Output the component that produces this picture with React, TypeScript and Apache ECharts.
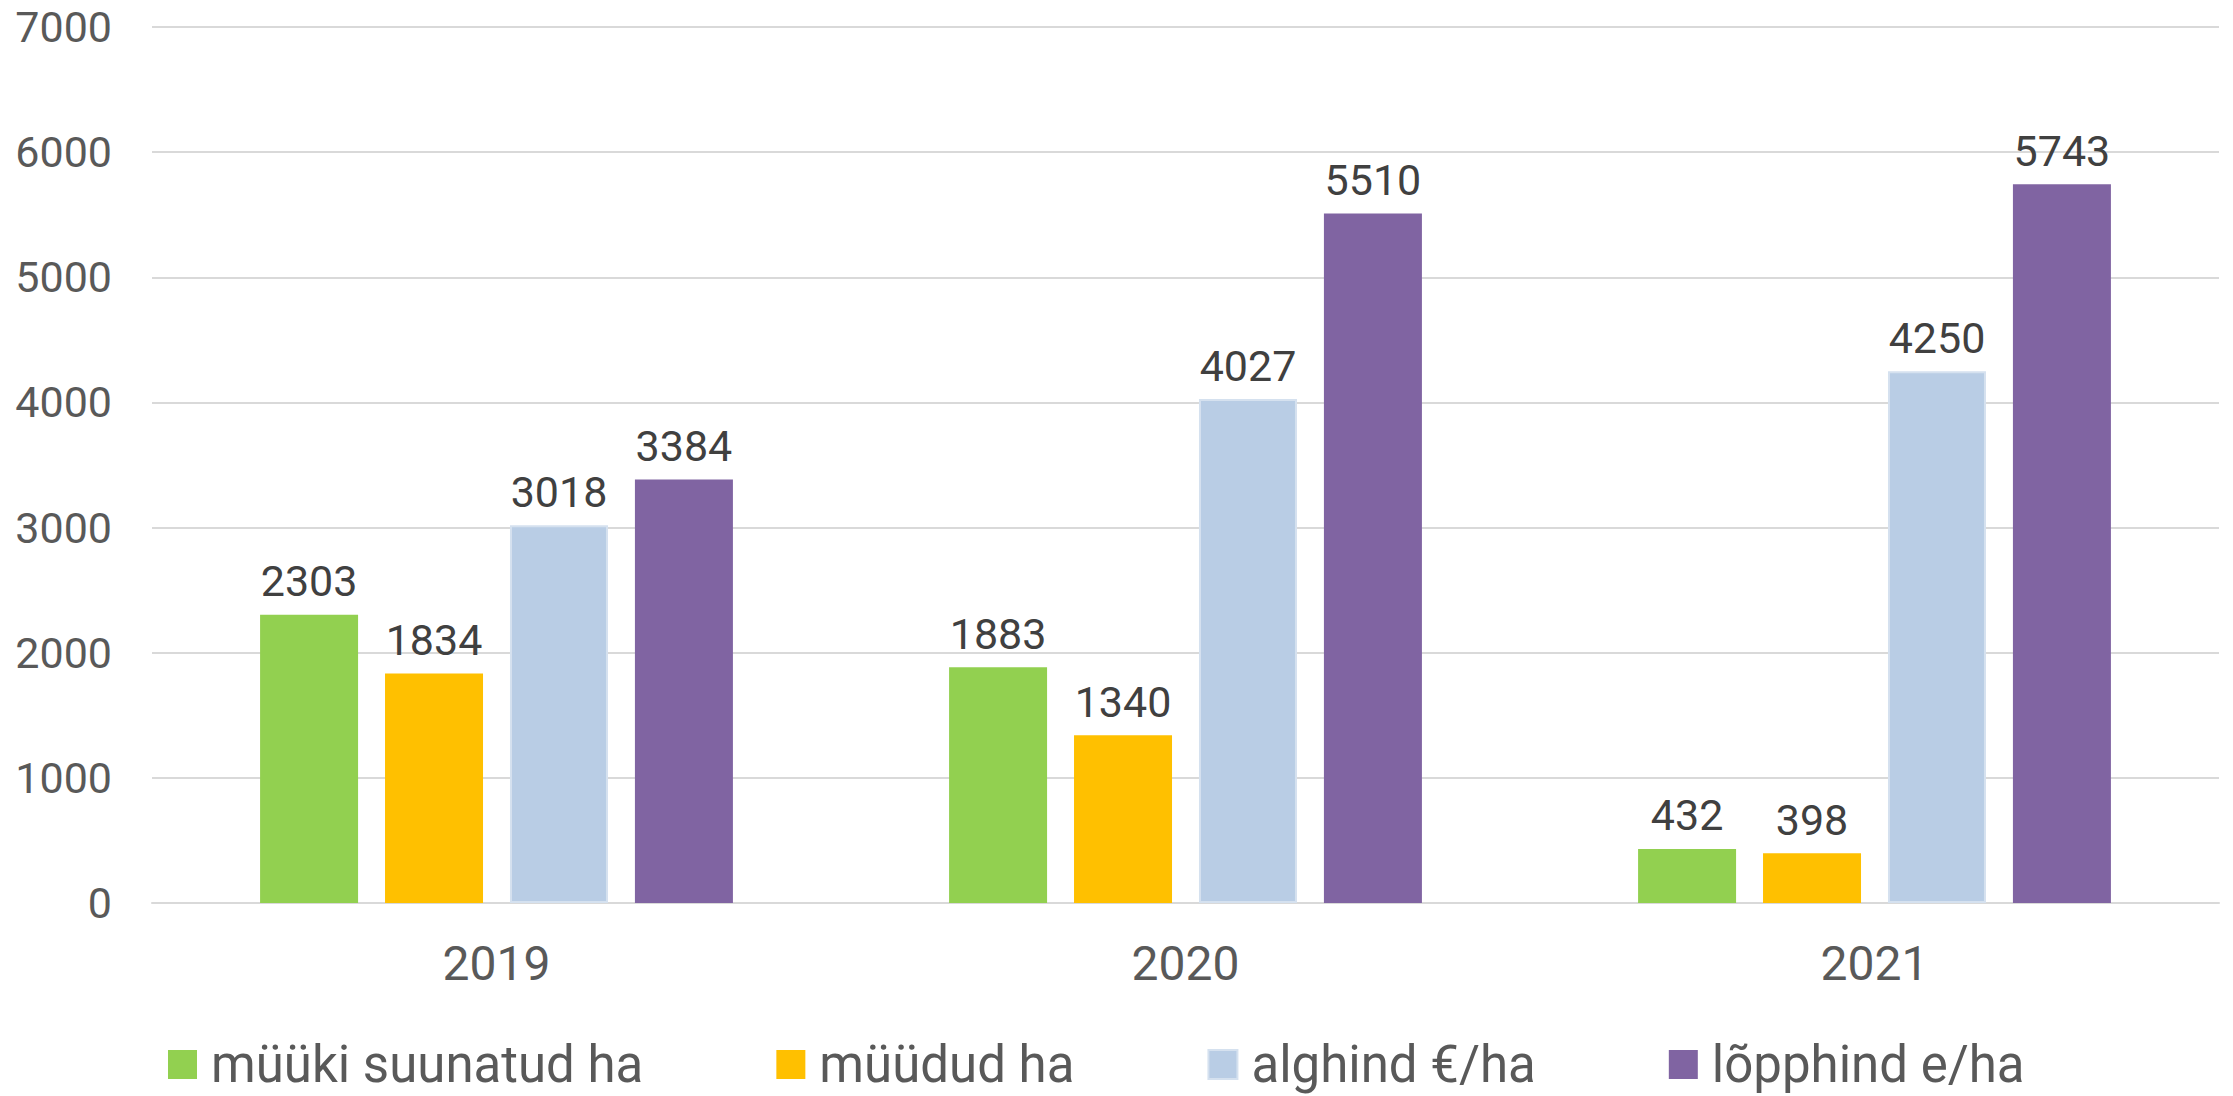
import React, { useEffect, useRef } from "react";
import * as echarts from "echarts";

const categories = ["2019", "2020", "2021"];
const seriesNames = ["müüki suunatud ha", "müüdud ha", "alghind €/ha", "lõpphind e/ha"];
const mueukiSuunatud = [2303, 1883, 432];
const mueuedud = [1834, 1340, 398];
const alghind = [3018, 4027, 4250];
const loepphind = [3384, 5510, 5743];
const yTicks = [0, 1000, 2000, 3000, 4000, 5000, 6000, 7000];

const colors = ["#92d050", "#ffc000", "#b9cde5", "#8064a2"];

export default function App() {
  const ref = useRef<HTMLDivElement>(null);
  useEffect(() => {
    if (!ref.current) return;
    const chart = echarts.init(ref.current, null, { renderer: "svg" });
    const values = [mueukiSuunatud, mueuedud, alghind, loepphind];
    const font = "Roboto";
    chart.setOption({
      animation: false,
      backgroundColor: "#ffffff",
      grid: { left: 152, right: 14, top: 27, bottom: 193, containLabel: false },
      legend: {
        left: 163,
        top: 1034,
        padding: 5,
        icon: "rect",
        itemWidth: 29,
        itemHeight: 29,
        itemGap: 133,
        data: seriesNames,
        textStyle: {
          fontFamily: font,
          fontSize: 51,
          lineHeight: 50,
          color: "#595959",
          padding: [0, 0, 0, 9],
        },
      },
      xAxis: {
        type: "category",
        data: categories,
        axisLine: { lineStyle: { color: "#d9d9d9", width: 2 } },
        axisTick: { show: false },
        axisLabel: { fontFamily: font, fontSize: 48, color: "#595959", margin: 36 },
      },
      yAxis: {
        type: "value",
        min: yTicks[0],
        max: yTicks[yTicks.length - 1],
        interval: 1000,
        axisLine: { show: false },
        axisTick: { show: false },
        splitLine: { lineStyle: { color: "#d9d9d9", width: 2 } },
        axisLabel: {
          fontFamily: font,
          fontSize: 43,
          color: "#595959",
          margin: 40,
          formatter: (v: number) => String(v),
        },
      },
      series: seriesNames.map((name, i) => ({
        name,
        type: "bar",
        data: values[i],
        barWidth: 98,
        barGap: "27.5%",
        itemStyle: {
          color: colors[i],
          borderColor: i === 2 ? "#d5e1ef" : colors[i],
          borderWidth: i === 2 ? 2 : 0,
        },
        label: {
          show: true,
          position: "top",
          distance: 12,
          fontFamily: font,
          fontSize: 43,
          color: "#404040",
        },
      })),
    });
    return () => chart.dispose();
  }, []);
  return (
    <div
      ref={ref}
      style={{ position: "fixed", left: 0, top: 0, width: 2233, height: 1096 }}
    />
  );
}
